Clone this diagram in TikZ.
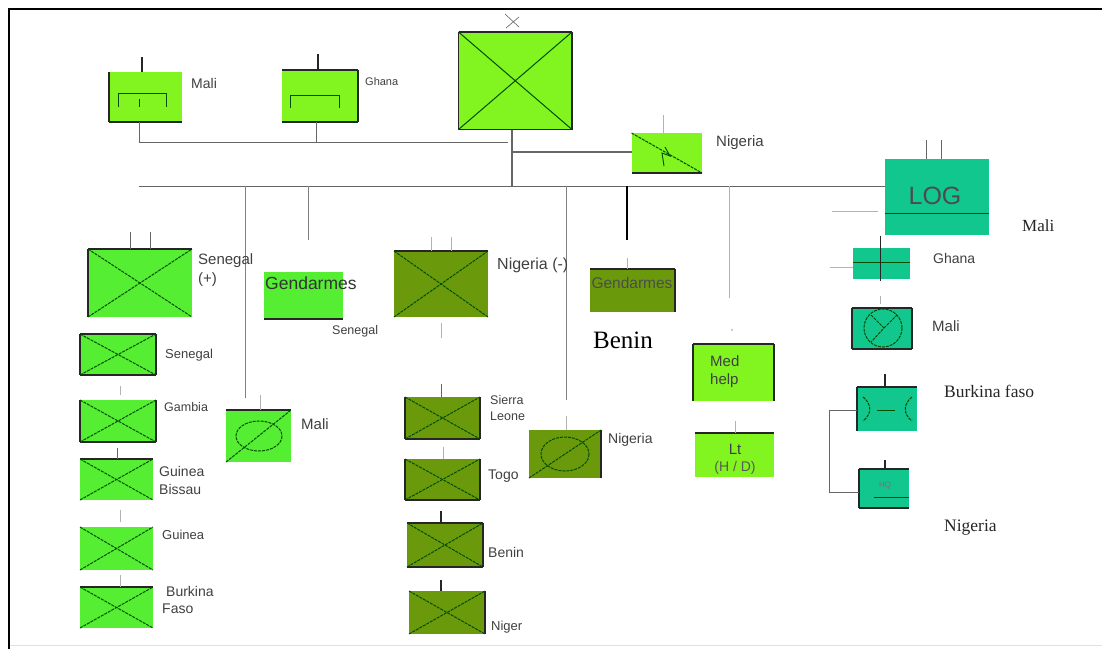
\documentclass[tikz,border=0pt]{standalone}
\usepackage{fontspec}
\setmainfont{Liberation Sans}
\newfontfamily\serifx{Liberation Serif}
\definecolor{lime}{HTML}{82F521}
\definecolor{grn}{HTML}{55EE33}
\definecolor{olv}{HTML}{6A9A0C}
\definecolor{tea}{HTML}{12C78E}
\tikzset{
  unitbox/.style={inner sep=0pt,outer sep=0pt,draw=none},
  edgeline/.style={line width=1.8pt,color=black!85},
  diag/.style={line width=1pt,color=black!70!green,dash pattern=on 3pt off 1pt},
  conn/.style={line width=0.9pt,color=black!60},
  connk/.style={line width=1.2pt,color=black!85},
  connl/.style={line width=0.8pt,color=black!30},
  lab/.style={inner sep=0pt,anchor=west,color=black!75},
  labs/.style={inner sep=0pt,anchor=west,color=black!85},
}
\newcommand{\fsz}[1]{\fontsize{#1}{#1}\selectfont}
\newcommand{\ubox}[6]{\node[unitbox,fill=#6,minimum width={(#4-#2)*1pt},minimum height={(#5-#3)*1pt}] (#1) at ({(#2+#4)/2},{(#3+#5)/2}) {};}
\newcommand{\topE}[1]{\draw[edgeline] (#1.north west) -- (#1.north east);}
\newcommand{\botE}[1]{\draw[edgeline] (#1.south west) -- (#1.south east);}
\newcommand{\leftE}[1]{\draw[edgeline] (#1.north west) -- (#1.south west);}
\newcommand{\rightE}[1]{\draw[edgeline] (#1.north east) -- (#1.south east);}
\newcommand{\crossx}[1]{\draw[diag] (#1.north west) -- (#1.south east); \draw[diag] (#1.south west) -- (#1.north east);}
\newcommand{\stem}[5][conn]{\coordinate (#2s) at (#3,#4); \draw[#1] (#2s) -- (#3,#5);}
\begin{document}
\begin{tikzpicture}[x=1pt,y=-1pt]
\useasboundingbox (0,0) rectangle (1102,649);
\fill[white] (0,0) rectangle (1102,649);
% frame
\coordinate (fa) at (9,649); \coordinate (fb) at (9,9); \coordinate (fc) at (1102,9);
\coordinate (fd) at (9,645.5); \coordinate (fe) at (1102,645.5);
\draw[line width=1pt,black!12] (fd) -- (fe);
\draw[line width=1.6pt,black] (fa) -- (fb) -- (fc);

% top row
\ubox{mali}{109}{72}{182}{122}{lime} \leftE{mali} \botE{mali}
\ubox{ghana}{282}{70}{358}{122}{lime} \topE{ghana} \rightE{ghana} \botE{ghana}
\ubox{hq}{458.5}{32}{572}{129.5}{lime} \topE{hq} \botE{hq} \leftE{hq} \rightE{hq}
\draw[diag,dash pattern=] (hq.north west) -- (hq.south east); \draw[diag,dash pattern=] (hq.south west) -- (hq.north east);
\ubox{sig}{631.5}{133}{702}{173}{lime} \botE{sig}
\draw[diag] (sig.north west) -- (sig.south east);
\draw[line width=0.9pt,black!70!green] (665,147) -- (670,156) -- (662,153) -- (664,166);
\draw[line width=.9pt,black!70!green] (118,107) -- (118,93) -- (166,93) -- (166,107) (139,99) -- (139,107);
\draw[line width=.9pt,black!70!green] (290,108) -- (290,95) -- (339,95) -- (339,108);
\stem[connk]{m1}{142}{57}{72}
\stem[connk]{m2}{318}{54}{70}
\stem[connl]{m3}{663}{115}{133}
\draw[line width=.7pt,black!55] (505,14) -- (519,27) (519,17) -- (506,28);
% buses
\coordinate (j1) at (139.5,142); \coordinate (j2) at (316,142); \coordinate (j3) at (508,142);
\coordinate (b0) at (139,186); \coordinate (bj) at (512,186); \coordinate (sj) at (512,152);
\draw[conn] (mali.south west -| j1) -- (j1) -- (j3);
\draw[conn] (ghana.south west -| j2) -- (j2);
\draw[conn,line width=1.1pt] (hq.south -| bj) -- (bj);
\draw[conn,line width=1.1pt] (sig.west |- sj) -- (sj);
\ubox{log}{885}{159}{989}{235}{tea}
\draw[conn] (b0) -- (log.west |- b0);
\draw[line width=1pt,black!70!green] (log.west |- 0,213) -- (log.east |- 0,213);
\node[inner sep=0pt,font=\fsz{25},color=black!70] (logt) at (935,196) {LOG};
\stem[conn]{l1}{926}{140}{159}
\stem[conn]{l2}{941}{140}{159}
\coordinate (l4) at (832,211); \draw[connl] (l4) -- (878,211);

% branches from the bus
\coordinate (br1) at (245,186); \coordinate (br2) at (308,186); \coordinate (br3) at (566,186); \coordinate (br4) at (627,186); \coordinate (br5) at (729,186);
\draw[line width=.9pt,black!50] (br1) -- (245,398);
\draw[line width=.9pt,black!50] (br2) -- (308,240);
\draw[line width=.9pt,black!50] (br3) -- (566,400);
\draw[line width=1.6pt,black] (br4) -- (627,240);
\draw[connl] (br5) -- (729,298);
\fill[black!40] (732,330) circle (.8);

% senegal group
\ubox{sen}{88}{249}{192}{317}{grn} \topE{sen} \leftE{sen} \crossx{sen}
\stem[conn]{s1}{130}{232}{249}
\stem[conn]{s2}{150}{232}{249}
\ubox{gend}{264}{272}{343}{319}{grn} \botE{gend}
\node[lab,font=\fsz{17.5},color=black!80] (gendt) at (265,283) {Gendarmes};
\ubox{u1}{80}{334}{156}{375}{grn} \topE{u1} \botE{u1} \leftE{u1} \rightE{u1} \crossx{u1}
\ubox{u2}{80}{400}{156}{442}{grn} \botE{u2} \leftE{u2} \rightE{u2} \crossx{u2}
\stem[connl]{u2s}{120}{386}{395}
\ubox{u3}{80}{459}{153}{500}{grn} \topE{u3} \crossx{u3}
\stem[conn]{u3s}{117}{448}{459}
\ubox{u4}{80}{527}{153}{570}{grn} \crossx{u4}
\stem[connl]{u4s}{120}{510}{522}
\ubox{u5}{80}{587}{153}{628}{grn} \topE{u5} \crossx{u5}
\stem[connl]{u5s}{120}{575}{587}
\ubox{um}{226}{410}{291}{462}{grn} \topE{um}
\draw[diag] (um.south west) -- (um.north east);
\draw[diag] (259,436) ellipse (23 and 15);
\stem[connl]{ums}{260}{395}{410}

% nigeria group
\ubox{nig}{394}{251}{488}{317}{olv} \topE{nig} \crossx{nig}
\stem[connl]{n1}{431}{237}{251}
\stem[connl]{n2}{451}{237}{251}
\stem[connl]{n3}{441}{323}{338}
\ubox{n4}{405}{397}{480}{439}{olv} \leftE{n4} \rightE{n4} \botE{n4} \crossx{n4}
\stem[conn]{n4s}{441}{384}{397}
\ubox{n5}{405}{459}{480}{500}{olv} \leftE{n5} \rightE{n5} \botE{n5} \crossx{n5}
\stem[connl]{n5s}{443}{447}{459}
\ubox{n6}{407}{523}{483}{567}{olv} \topE{n6} \rightE{n6} \botE{n6} \crossx{n6}
\stem[connk]{n6s}{441}{511}{523}
\ubox{n7}{409}{591}{485}{634}{olv} \rightE{n7} \crossx{n7}
\stem[connk]{n7s}{441}{580}{591}
\ubox{nr}{529}{430}{601}{478}{olv} \rightE{nr}
\draw[diag] (nr.south west) -- (nr.north east);
\draw[diag] (565,454) ellipse (24 and 17);
\stem[connl]{nrs}{566}{416}{430}
\ubox{go}{590}{269}{675}{312}{olv} \topE{go} \rightE{go}
\node[inner sep=0pt,font=\fsz{15.5},color=black!70] (got) at (632,283) {Gendarmes};
\stem[connl]{gos}{627}{258}{269}

% medical
\ubox{med}{693}{344}{774}{401}{lime} \topE{med} \leftE{med} \rightE{med}
\ubox{lt}{695}{433}{774}{477}{lime} \topE{lt}
\stem[connl]{lts}{735}{421}{433}
\node[lab,font=\fsz{15}] (medt) at (710,361) {Med};
\node[lab,font=\fsz{15}] (medu) at (710,381) {help};
\node[inner sep=0pt,font=\fsz{15},color=black!75] (ltt) at (735,449) {Lt};
\node[inner sep=0pt,font=\fsz{14},color=black!65] (ltu) at (735,468) {(H / D)};

% logistics
\ubox{t1}{853}{248}{910}{279}{tea}
\draw[line width=1pt,black!70!green] (t1.west) ++(0,-1.5) -- ++(57,0);
\coordinate (t1a) at (880,236); \draw[connk,line width=1pt] (t1a) -- (880,281);
\coordinate (t1b) at (830,267); \draw[connl] (t1b) -- (t1.west |- t1b);
\ubox{t2}{852}{308}{912}{349}{tea} \topE{t2} \botE{t2} \leftE{t2} \rightE{t2}
\draw[diag] (883,328) circle (19);
\draw[diag] (871,315) -- (884,328) -- (871,342) (884,328) -- (897,315);
\stem[connl]{t2s}{880}{296}{304}
\ubox{t3}{857}{387}{917}{431}{tea} \topE{t3} \leftE{t3}
\draw[diag] (863,397) .. controls (872,404) and (872,414) .. (863,421);
\draw[diag] (912,397) .. controls (903,404) and (903,414) .. (912,421);
\draw[line width=.8pt,black!70!green] (877,410) -- (895,410);
\stem[connk]{t3s}{885}{374}{387}
\ubox{t4}{859}{469}{909}{508}{tea} \topE{t4} \leftE{t4} \botE{t4}
\draw[line width=.8pt,black!70!green] (874,497) -- (909,497);
\node[inner sep=0pt,font=\fsz{8},color=black!55] (t4t) at (885,485) {HQ};
\stem[connk]{t4s}{885}{460}{469}
\coordinate (tb) at (829,410); \coordinate (tc) at (829,492);
\draw[conn] (t3.west |- tb) -- (tb) -- (tc) -- (t4.west |- tc);

% labels
\node[lab,font=\fsz{14}] (a1) at (191,83) {Mali};
\node[lab,font=\fsz{11}] (a2) at (365,82) {Ghana};
\node[lab,font=\fsz{15}] (a3) at (716,143) {Nigeria};
\node[labs,font=\serifx\fsz{17}] (a4) at (1022,226) {Mali};
\node[lab,font=\fsz{14}] (a5) at (933,258) {Ghana};
\node[lab,font=\fsz{15}] (a6) at (932,326) {Mali};
\node[labs,font=\serifx\fsz{17.5}] (a7) at (944,391) {Burkina faso};
\node[labs,font=\serifx\fsz{17.5}] (a8) at (944,528) {Nigeria};
\node[labs,font=\serifx\fsz{25},color=black] (a9) at (593,340) {Benin};
\node[lab,font=\fsz{15}] (b1l) at (198,261) {Senegal};
\node[lab,font=\fsz{15}] (b2) at (198,280) {(+)};
\node[lab,font=\fsz{12.5}] (b3) at (332,331) {Senegal};
\node[lab,font=\fsz{13}] (b4) at (165,355) {Senegal};
\node[lab,font=\fsz{12.5}] (b5) at (164,407) {Gambia};
\node[lab,font=\fsz{14}] (b6) at (159,471) {Guinea};
\node[lab,font=\fsz{14}] (b7) at (159,489) {Bissau};
\node[lab,font=\fsz{13}] (b8) at (162,535) {Guinea};
\node[lab,font=\fsz{14}] (b9) at (166,591) {Burkina};
\node[lab,font=\fsz{14}] (b10) at (162,609) {Faso};
\node[lab,font=\fsz{15}] (b11) at (301,424) {Mali};
\node[lab,font=\fsz{16}] (c1) at (497,265) {Nigeria (-)};
\node[lab,font=\fsz{12.5}] (c2) at (490,400) {Sierra};
\node[lab,font=\fsz{12.5}] (c3) at (490,416) {Leone};
\node[lab,font=\fsz{14}] (c4) at (488,476) {Togo};
\node[lab,font=\fsz{14}] (c5) at (488,552) {Benin};
\node[lab,font=\fsz{13}] (c6) at (491,627) {Niger};
\node[lab,font=\fsz{14}] (c7) at (608,440) {Nigeria};
\end{tikzpicture}
\end{document}
